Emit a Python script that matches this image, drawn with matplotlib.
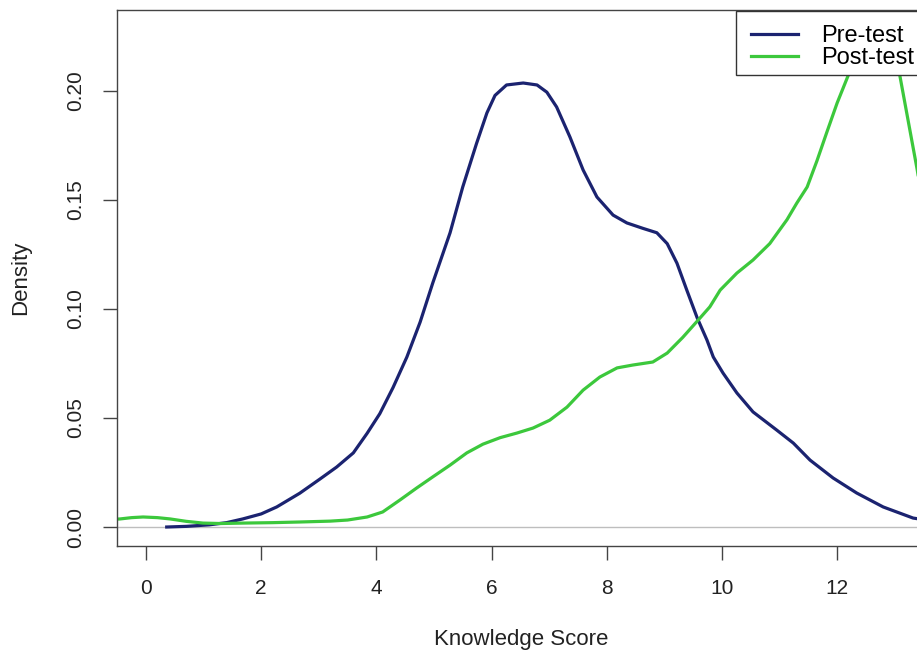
import matplotlib.pyplot as plt
from matplotlib.patches import Rectangle

plt.rcParams['font.family'] = ['Liberation Sans', 'DejaVu Sans']

# Density curves (knowledge score vs density)
pre_x = [0.36, 0.7, 1.1, 1.4, 1.68, 2.0, 2.27, 2.67, 3.02, 3.31, 3.6, 3.84,
         4.06, 4.29, 4.53, 4.76, 4.98, 5.28, 5.5, 5.74, 5.92, 6.06, 6.26,
         6.55, 6.79, 6.96, 7.13, 7.36, 7.59, 7.83, 8.11, 8.35, 8.63, 8.87,
         9.05, 9.22, 9.39, 9.57, 9.74, 9.85, 10.02, 10.26, 10.54, 10.95,
         11.24, 11.53, 11.93, 12.34, 12.8, 13.32, 13.6]
pre_y = [0.0, 0.0003, 0.001, 0.002, 0.0037, 0.006, 0.0092, 0.0155, 0.022,
         0.0275, 0.034, 0.043, 0.052, 0.064, 0.078, 0.094, 0.112, 0.135,
         0.156, 0.176, 0.190, 0.198, 0.2028, 0.2037, 0.2028, 0.1995, 0.1927,
         0.179, 0.1638, 0.1514, 0.1431, 0.1395, 0.137, 0.135, 0.130, 0.121,
         0.1087, 0.096, 0.0858, 0.078, 0.0706, 0.0615, 0.0528, 0.0445,
         0.0385, 0.0307, 0.0225, 0.0156, 0.0092, 0.0041, 0.003]

post_x = [-0.6, -0.45, -0.25, -0.05, 0.2, 0.42, 0.7, 0.99, 1.3, 1.68, 2.2,
          2.67, 3.2, 3.5, 3.84, 4.11, 4.41, 4.7, 4.98, 5.28, 5.57, 5.85, 6.15,
          6.44, 6.72, 7.01, 7.31, 7.59, 7.88, 8.18, 8.45, 8.8, 9.05, 9.32,
          9.62, 9.79, 9.97, 10.26, 10.54, 10.83, 11.13, 11.3, 11.48, 11.65,
          11.82, 12.0, 12.19, 12.45, 12.7, 12.95, 13.09, 13.39, 13.6]
post_y = [0.0035, 0.0037, 0.0043, 0.0046, 0.0043, 0.0037, 0.0026, 0.0018,
          0.0016, 0.0018, 0.002, 0.0023, 0.0027, 0.0032, 0.0046, 0.0069,
          0.0124, 0.0179, 0.023, 0.0284, 0.034, 0.038, 0.041, 0.0431, 0.0454,
          0.049, 0.055, 0.0628, 0.0688, 0.073, 0.0743, 0.0757, 0.0798, 0.087,
          0.0959, 0.101, 0.1087, 0.1165, 0.1225, 0.130, 0.141, 0.1486, 0.156,
          0.168, 0.181, 0.1945, 0.207, 0.228, 0.238, 0.228, 0.207, 0.164,
          0.13]

x_ticks = [0, 2, 4, 6, 8, 10, 12]
y_ticks = [0.00, 0.05, 0.10, 0.15, 0.20]
series_names = ['Pre-test', 'Post-test']
colors = ['#1b2370', '#3cc83c']

fig = plt.figure(figsize=(9.17, 6.53), dpi=100)
ax = fig.add_axes([0.1276, 0.1639, 0.882, 0.8208])

ax.axhline(0, color='#bebebe', lw=1, zorder=1)
ax.plot(pre_x, pre_y, color=colors[0], lw=2.3, label=series_names[0],
        solid_joinstyle='round')
ax.plot(post_x, post_y, color=colors[1], lw=2.3, label=series_names[1],
        solid_joinstyle='round')

ax.set_xlim(-0.503, 13.54)
ax.set_ylim(-0.0087, 0.2372)
ax.set_xticks(x_ticks)
ax.set_yticks(y_ticks)
ax.set_yticklabels([f'{v:.2f}' for v in y_ticks])
ax.tick_params(axis='both', length=10, width=1, color='#444444',
               labelsize=15, labelcolor='#222222')
ax.tick_params(axis='x', pad=14)
ax.tick_params(axis='y', pad=13, labelrotation=90)
for lbl in ax.get_yticklabels():
    lbl.set_va('center')

for sp in ax.spines.values():
    sp.set_color('#444444')
    sp.set_linewidth(1)

ax.set_xlabel('Knowledge Score', fontsize=16, color='#222222', labelpad=22)
ax.set_ylabel('Density', fontsize=16, color='#222222', labelpad=25)

# legend box runs off the right edge, as in the original
box = Rectangle((0.765, 0.879), 0.3, 0.119, transform=ax.transAxes,
                facecolor='white', edgecolor='#333333', lw=1, zorder=4,
                clip_on=False)
ax.add_patch(box)
leg = ax.legend(loc='upper left', bbox_to_anchor=(0.765, 1.0),
                borderaxespad=0, fontsize=17, frameon=False, borderpad=0.65,
                labelspacing=0.0, handlelength=2.0, handletextpad=0.95)
leg.set_zorder(5)

fig.savefig('out.png', dpi=100)
